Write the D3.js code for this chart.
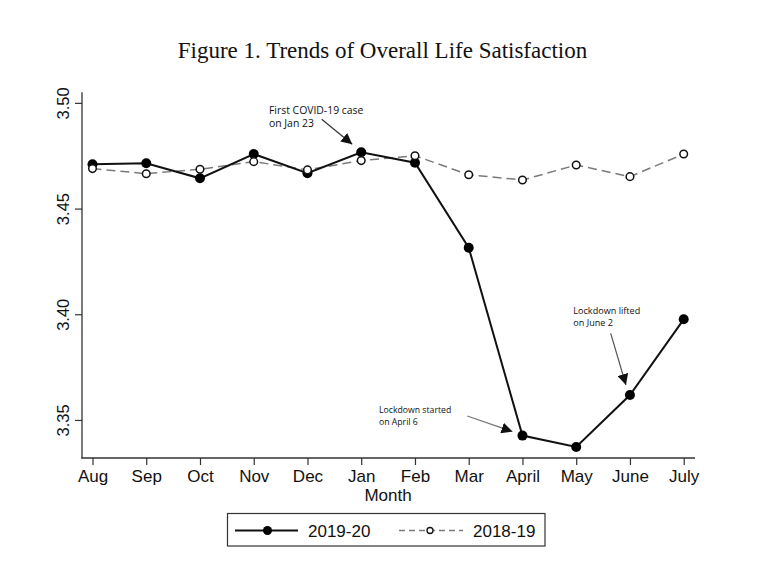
<!DOCTYPE html>
<html>
<head>
<meta charset="utf-8">
<script src="https://cdn.jsdelivr.net/npm/d3@7"></script>
<style>
  body { margin: 0; background: #fff; }
  svg { display: block; }
</style>
</head>
<body>
<div id="chart"></div>
<script>
const months = ["Aug","Sep","Oct","Nov","Dec","Jan","Feb","Mar","April","May","June","July"];
const values2019_20 = [3.4710, 3.4714, 3.4643, 3.4758, 3.4667, 3.4766, 3.4717, 3.4315, 3.3426, 3.3372, 3.3618, 3.3976];
const values2018_19 = [3.4689, 3.4665, 3.4686, 3.4722, 3.4683, 3.4727, 3.4750, 3.4660, 3.4635, 3.4706, 3.4651, 3.4758];
const yTicks = [3.35, 3.40, 3.45, 3.50];
const seriesNames = ["2019-20", "2018-19"];
const titleText = "Figure 1. Trends of Overall Life Satisfaction";
const annotations = [
  { lines: ["First COVID-19 case", "on Jan 23"], month: "Jan", value: 3.4766 },
  { lines: ["Lockdown started", "on April 6"], month: "April", value: 3.3426 },
  { lines: ["Lockdown lifted", "on June 2"], month: "June", value: 3.3618 }
];

const W = 775, H = 585;
const svg = d3.select("#chart").append("svg").attr("width", W).attr("height", H);
svg.append("rect").attr("width", W).attr("height", H).attr("fill", "#fff");

const x = d3.scalePoint().domain(months).range([92.5, 683.7]);
const y = d3.scaleLinear().domain([3.332, 3.505]).range([458, 92.3]);

const sans = "'Liberation Sans', Arial, Helvetica, sans-serif";
const annFont = "'Open Sans', 'DejaVu Sans', sans-serif";

// defs
const defs = svg.append("defs");
defs.append("marker").attr("id", "arrow").attr("viewBox", "0 0 10 10")
  .attr("refX", 10).attr("refY", 5).attr("markerWidth", 11).attr("markerHeight", 11)
  .attr("markerUnits", "userSpaceOnUse").attr("orient", "auto")
  .append("path").attr("d", "M0,0 L10,5 L0,10 z").attr("fill", "#111");

// title
svg.append("text").attr("x", 382.5).attr("y", 57.5).attr("text-anchor", "middle")
  .attr("font-family", "'Liberation Serif', 'Times New Roman', serif")
  .attr("font-size", 23).attr("fill", "#111").text(titleText);

// axes lines
const axisColor = "#333";
svg.append("line").attr("x1", 82).attr("x2", 82).attr("y1", 92.3).attr("y2", 458.6)
  .attr("stroke", axisColor).attr("stroke-width", 1.3);
svg.append("line").attr("x1", 81.4).attr("x2", 695).attr("y1", 458).attr("y2", 458)
  .attr("stroke", axisColor).attr("stroke-width", 1.3);

// y axis
const yAxis = d3.axisLeft(y).tickValues(yTicks).tickFormat(d3.format(".2f")).tickSize(7).tickSizeOuter(0).tickPadding(4);
const gy = svg.append("g").attr("transform", "translate(82,0)").call(yAxis);
gy.select(".domain").remove();
gy.selectAll(".tick line").attr("stroke", axisColor).attr("stroke-width", 1.2);
gy.selectAll(".tick text")
  .attr("font-family", sans).attr("font-size", 16.5).attr("fill", "#111")
  .attr("transform", "translate(-19,0) rotate(-90)")
  .attr("x", 0).attr("dy", "0.35em").attr("text-anchor", "middle");

// x axis
const xAxis = d3.axisBottom(x).tickSize(7).tickSizeOuter(0).tickPadding(5);
const gx = svg.append("g").attr("transform", "translate(0,458)").call(xAxis);
gx.select(".domain").remove();
gx.selectAll(".tick line").attr("stroke", axisColor).attr("stroke-width", 1.2);
gx.selectAll(".tick text").attr("font-family", sans).attr("font-size", 17).attr("fill", "#111")
  .attr("y", 18.5).attr("dy", "0.35em");

svg.append("text").attr("x", 388).attr("y", 495).attr("dy", "0.35em").attr("text-anchor", "middle")
  .attr("font-family", sans).attr("font-size", 17).attr("fill", "#111").text("Month");

// lines
const line = d3.line().x((d, i) => x(months[i])).y(d => y(d));
svg.append("path").datum(values2018_19).attr("d", line).attr("fill", "none")
  .attr("stroke", "#7a7a7a").attr("stroke-width", 1.5).attr("stroke-dasharray", "9,5");
svg.append("path").datum(values2019_20).attr("d", line).attr("fill", "none")
  .attr("stroke", "#111").attr("stroke-width", 2);

svg.append("g").selectAll("circle").data(values2019_20).join("circle")
  .attr("cx", (d, i) => x(months[i])).attr("cy", d => y(d)).attr("r", 5)
  .attr("fill", "#000");
svg.append("g").selectAll("circle").data(values2018_19).join("circle")
  .attr("cx", (d, i) => x(months[i])).attr("cy", d => y(d)).attr("r", 3.8)
  .attr("fill", "#fff").attr("stroke", "#111").attr("stroke-width", 1.5);

// annotations
const annPos = [
  { tx: 269, ty: 110, fs: 10.4, lh: 13.4, x1: 321.7, y1: 119.3, dx: -9, dy: -8, color: "#333" },
  { tx: 379, ty: 409.7, fs: 8.7, lh: 12.3, x1: 467.3, y1: 416, dx: -10, dy: -4, color: "#777" },
  { tx: 573.3, ty: 310.7, fs: 9.1, lh: 12.6, x1: 610.7, y1: 333.3, dx: -4, dy: -10, color: "#555" }
];
annotations.forEach((a, i) => {
  const p = annPos[i];
  const t = svg.append("text").attr("font-family", annFont).attr("font-size", p.fs).attr("fill", "#111");
  a.lines.forEach((l, j) => {
    t.append("tspan").attr("x", p.tx).attr("y", p.ty + j * p.lh).attr("dy", "0.35em").text(l);
  });
  svg.append("line").attr("x1", p.x1).attr("y1", p.y1)
    .attr("x2", x(a.month) + p.dx).attr("y2", y(a.value) + p.dy)
    .attr("stroke", p.color).attr("stroke-width", 1.2).attr("marker-end", "url(#arrow)");
});

// legend
const lg = svg.append("g");
lg.append("rect").attr("x", 227.5).attr("y", 513.5).attr("width", 317.5).attr("height", 32.5)
  .attr("fill", "#fff").attr("stroke", "#333").attr("stroke-width", 1.2);
lg.append("line").attr("x1", 235).attr("x2", 298).attr("y1", 530.5).attr("y2", 530.5)
  .attr("stroke", "#111").attr("stroke-width", 2);
lg.append("circle").attr("cx", 267.5).attr("cy", 530.5).attr("r", 4.5).attr("fill", "#000");
lg.append("text").attr("x", 308).attr("y", 531).attr("dy", "0.35em")
  .attr("font-family", sans).attr("font-size", 17).attr("fill", "#111").text(seriesNames[0]);
lg.append("line").attr("x1", 399).attr("x2", 463).attr("y1", 530.5).attr("y2", 530.5)
  .attr("stroke", "#7a7a7a").attr("stroke-width", 1.5).attr("stroke-dasharray", "6,4");
lg.append("circle").attr("cx", 430).attr("cy", 530.5).attr("r", 3).attr("fill", "#fff")
  .attr("stroke", "#111").attr("stroke-width", 1.3);
lg.append("text").attr("x", 473).attr("y", 531).attr("dy", "0.35em")
  .attr("font-family", sans).attr("font-size", 17).attr("fill", "#111").text(seriesNames[1]);
</script>
</body>
</html>
